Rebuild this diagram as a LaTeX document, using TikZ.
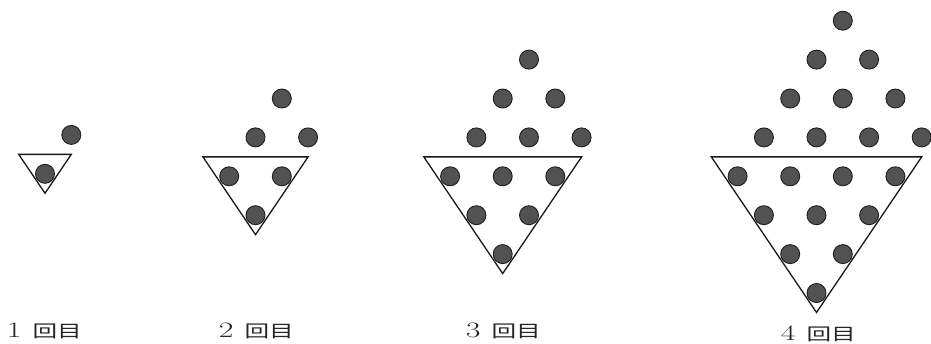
\documentclass[tikz,border=0pt]{standalone}
\usepackage{fontspec}
\newfontfamily\jfont{Noto Sans CJK JP}
\newcommand\hstep{26.3}
\newcommand\vstep{38.9}
\newcommand\rowzero{20.7}
% #1 = n, #2 = apex x, #3 = y shift
\newcommand\drawgroup[3]{%
  \begin{scope}[yshift=-#3pt]
  % upper triangle of dots
  \foreach \k in {1,...,#1}{%
    \foreach \j in {1,...,\k}{%
      \pgfmathsetmacro\xx{#2+\hstep-(\k-1)*\hstep+2*(\j-1)*\hstep}
      \pgfmathsetmacro\yy{\rowzero+(3-#1+\k)*\vstep}
      \node[dot] (g#1u\k-\j) at (\xx,\yy) {};
    }%
  }%
  % lower triangle of dots
  \foreach \m in {1,...,#1}{%
    \pgfmathtruncatemacro\cnt{#1-\m+1}
    \foreach \j in {1,...,\cnt}{%
      \pgfmathsetmacro\xx{#2-(#1-\m)*\hstep+2*(\j-1)*\hstep}
      \pgfmathsetmacro\yy{\rowzero+(3+\m)*\vstep}
      \node[dot] (g#1l\m-\j) at (\xx,\yy) {};
    }%
  }%
  \pgfmathsetmacro\ta{#2-#1*\hstep}
  \pgfmathsetmacro\tb{#2+#1*\hstep}
  \pgfmathsetmacro\ty{\rowzero+3.5*\vstep}
  \pgfmathsetmacro\tc{\rowzero+(3.5+#1)*\vstep}
  \coordinate (t#1a) at (\ta,\ty);
  \coordinate (t#1b) at (\tb,\ty);
  \coordinate (t#1c) at (#2,\tc);
  \draw[tri] (t#1a) -- (t#1b) -- (t#1c) -- cycle;
  \end{scope}%
}
\newcommand\labtext[1]{{\fontsize{22}{22}\selectfont #1}\hspace{0.45em}{\jfont 回目}}
\begin{document}
\begin{tikzpicture}[x=1pt,y=-1pt,
  dot/.style={circle,fill=black!68,draw=black!88,line width=0.9pt,minimum size=19pt,inner sep=0pt},
  tri/.style={line width=1.3pt,line join=miter,draw=black!90},
  lbl/.style={anchor=west,inner sep=0pt,font=\fontsize{17}{17}\selectfont,xscale=1.45,text=black!85}]
\fill[white] (0,0) rectangle (931,343);
\useasboundingbox (0,0) rectangle (931,343);
\drawgroup{1}{45}{-2.5}
\drawgroup{2}{255.5}{0}
\drawgroup{3}{502.7}{0}
\drawgroup{4}{816.5}{0}
\node[lbl] (lab1) at (6.5,330.5) {\labtext{1}};
\node[lbl] (lab2) at (218.5,330.5) {\labtext{2}};
\node[lbl] (lab3) at (465.5,330.5) {\labtext{3}};
\node[lbl] (lab4) at (780.5,333.5) {\labtext{4}};
\end{tikzpicture}
\end{document}
